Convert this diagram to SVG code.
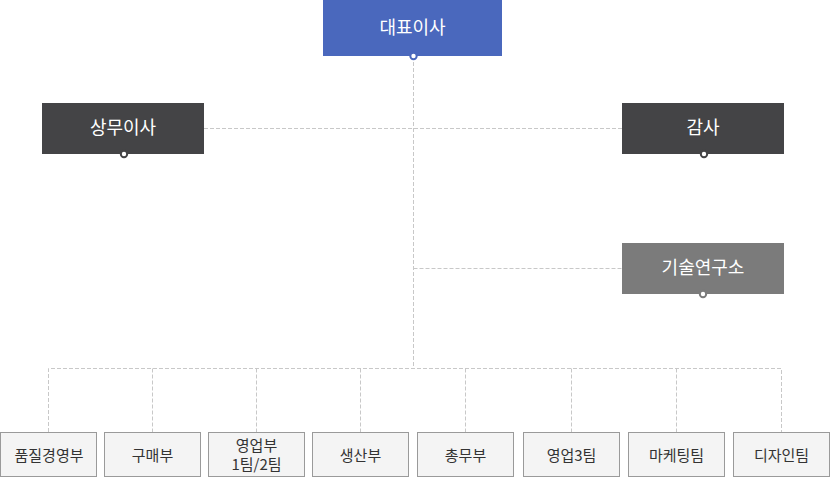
<svg xmlns="http://www.w3.org/2000/svg" width="831" height="478" viewBox="0 0 831 478">
<style>
.ln{stroke:#c8c8c8;stroke-width:1;fill:none;stroke-dasharray:4 2}
.top{font-family:"Noto Sans CJK KR","Noto Sans",sans-serif;font-size:18px;fill:#ffffff;text-anchor:middle}
.sub rect{fill:#f4f4f4;stroke:#9a9a9a;stroke-width:1}
.sub text{font-family:"Noto Sans CJK KR","Noto Sans",sans-serif;font-size:15px;fill:#333333;text-anchor:middle}
.dot{fill:#ffffff;stroke-width:2}
</style>
<rect width="831" height="478" fill="#ffffff"/>
<g id="connectors">
<path class="ln" d="M413.5 56V368.5"/>
<path class="ln" d="M204 128.5H622"/>
<path class="ln" d="M413.5 268.5H622"/>
<path class="ln" d="M48.5 432V368.5H781.5V432"/>
<path class="ln" d="M152.5 368.5V432M256.5 368.5V432M360.5 368.5V432M465.5 368.5V432M571.5 368.5V432M676.5 368.5V432"/>
</g>
<g id="ceo">
<rect x="323" y="0" width="179" height="56" fill="#4a68bd"/>
<text class="top" x="412.5" y="34">대표이사</text>
<circle class="dot" cx="413.5" cy="56" r="3.2" stroke="#4a68bd"/>
</g>
<g id="managing-director">
<rect x="42" y="103" width="162" height="51" fill="#444446"/>
<text class="top" x="123" y="134">상무이사</text>
<circle class="dot" cx="124" cy="154" r="3.2" stroke="#444446"/>
</g>
<g id="auditor">
<rect x="622" y="103" width="162" height="51" fill="#444446"/>
<text class="top" x="703" y="134">감사</text>
<circle class="dot" cx="704" cy="154" r="3.2" stroke="#444446"/>
</g>
<g id="rnd">
<rect x="622" y="243" width="162" height="51" fill="#7b7b7b"/>
<text class="top" x="703" y="274">기술연구소</text>
<circle class="dot" cx="703" cy="294" r="3.2" stroke="#7b7b7b"/>
</g>
<g id="quality" class="sub"><rect x="0.5" y="432.5" width="96" height="44"/><text x="49" y="460.5">품질경영부</text></g>
<g id="purchasing" class="sub"><rect x="104.5" y="432.5" width="96" height="44"/><text x="152.5" y="460.5">구매부</text></g>
<g id="sales12" class="sub"><rect x="208.5" y="432.5" width="96" height="44"/><text x="256.5" y="451" font-size="14.5">영업부</text><text x="256.5" y="470" font-size="14.5">1팀/2팀</text></g>
<g id="production" class="sub"><rect x="312.5" y="432.5" width="96" height="44"/><text x="360.5" y="460.5">생산부</text></g>
<g id="general" class="sub"><rect x="417.5" y="432.5" width="96" height="44"/><text x="465.5" y="460.5">총무부</text></g>
<g id="sales3" class="sub"><rect x="523.5" y="432.5" width="96" height="44"/><text x="571.5" y="460.5">영업3팀</text></g>
<g id="marketing" class="sub"><rect x="628.5" y="432.5" width="96" height="44"/><text x="676.5" y="460.5">마케팅팀</text></g>
<g id="design" class="sub"><rect x="733.5" y="432.5" width="96" height="44"/><text x="781.5" y="460.5">디자인팀</text></g>
</svg>
